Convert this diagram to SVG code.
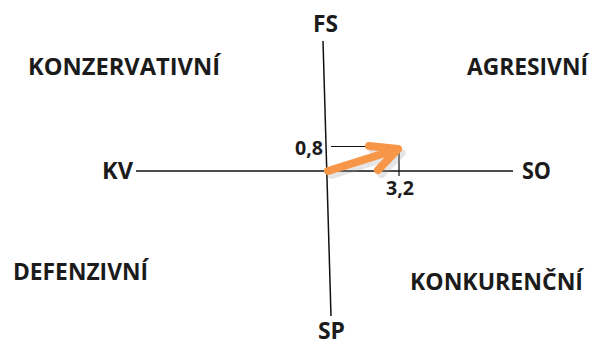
<svg xmlns="http://www.w3.org/2000/svg" width="595" height="340" viewBox="0 0 595 340">
<style>
.t{font-family:"Open Sans","Liberation Sans",sans-serif;font-weight:bold;font-size:24px;fill:#1b1b1b}
.n{font-size:19.5px}
.ax{stroke:#111;stroke-width:1.5;fill:none}
.thin{stroke:#111;stroke-width:1.2;fill:none}
</style>
<rect width="595" height="340" fill="#fff"/>
<g id="axes">
<line class="ax" x1="323" y1="41" x2="331" y2="316"/>
<line class="ax" x1="136" y1="171" x2="513" y2="171"/>
</g>
<g id="guides">
<polyline class="thin" points="331,146.5 399,146.5 399,176"/>
</g>
<g id="vector">
<path d="M330,173 L400,151 M371,148 L400,151 L380,172" stroke="#999" stroke-opacity="0.25" stroke-width="8" fill="none" stroke-linecap="round" stroke-linejoin="round" transform="translate(1.5,2)"/>
<path d="M328,171 L398,149 M369,146 L398,149 L378,170" stroke="#F79646" stroke-width="8" fill="none" stroke-linecap="round" stroke-linejoin="round"/>
</g>
<g id="labels">
<text class="t" x="313" y="32" textLength="25" lengthAdjust="spacingAndGlyphs">FS</text>
<text class="t" x="318" y="339" textLength="27" lengthAdjust="spacingAndGlyphs">SP</text>
<text class="t" x="102" y="179" textLength="31" lengthAdjust="spacingAndGlyphs">KV</text>
<text class="t" x="522" y="179" textLength="29" lengthAdjust="spacingAndGlyphs">SO</text>
<text class="t n" x="295" y="155" textLength="28" lengthAdjust="spacingAndGlyphs">0,8</text>
<text class="t n" x="386" y="195" textLength="28" lengthAdjust="spacingAndGlyphs">3,2</text>
<text class="t" x="28" y="75" textLength="192" lengthAdjust="spacingAndGlyphs">KONZERVATIVNÍ</text>
<text class="t" x="467" y="75" textLength="121" lengthAdjust="spacingAndGlyphs">AGRESIVNÍ</text>
<text class="t" x="13" y="280" textLength="135" lengthAdjust="spacingAndGlyphs">DEFENZIVNÍ</text>
<text class="t" x="410" y="290" textLength="173" lengthAdjust="spacingAndGlyphs">KONKURENČNÍ</text>
</g>
</svg>
